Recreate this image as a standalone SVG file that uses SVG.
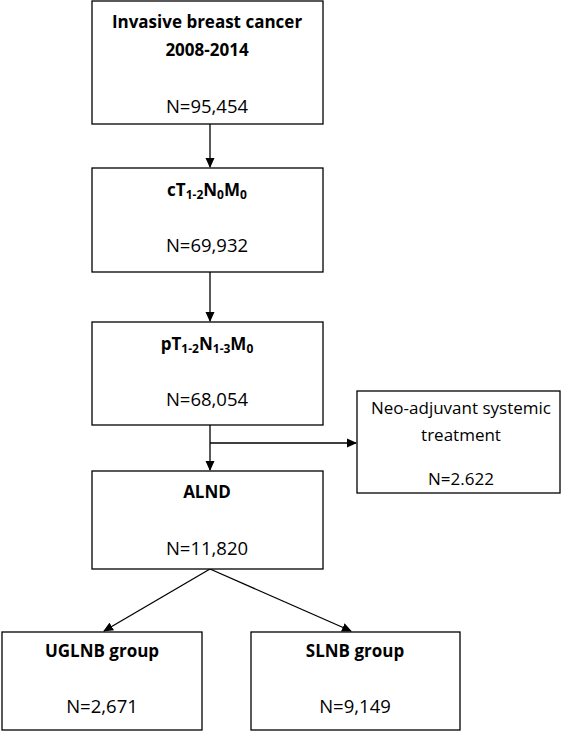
<svg xmlns="http://www.w3.org/2000/svg" width="567" height="731" viewBox="0 0 567 731">
<style>
.box{fill:#fff;stroke:#000;stroke-width:1.3}
.t{font-family:"Open Sans","Liberation Sans",sans-serif;font-size:17px;fill:#000;text-anchor:middle}
.n{font-size:18.5px}
.b{font-weight:bold}
.s{font-size:12px}
.con{stroke:#000;stroke-width:1.3;fill:none}
</style>
<defs>
<marker id="ah" markerWidth="10" markerHeight="10" refX="9" refY="5" orient="auto" markerUnits="userSpaceOnUse">
<path d="M0,0.5 L10,5 L0,9.5 Z" fill="#000"/>
</marker>
</defs>
<rect width="567" height="731" fill="#fff"/>
<g id="connectors">
<line class="con" x1="210" y1="124" x2="210" y2="167" marker-end="url(#ah)"/>
<line class="con" x1="210" y1="272" x2="210" y2="321" marker-end="url(#ah)"/>
<line class="con" x1="210" y1="425" x2="210" y2="470" marker-end="url(#ah)"/>
<line class="con" x1="210" y1="443" x2="356" y2="443" marker-end="url(#ah)"/>
<line class="con" x1="210" y1="569" x2="104" y2="631" marker-end="url(#ah)"/>
<line class="con" x1="210" y1="569" x2="351" y2="631" marker-end="url(#ah)"/>
</g>
<g id="n1">
<rect class="box" x="92" y="1" width="231" height="123"/>
<text class="t b" x="207" y="28">Invasive breast cancer</text>
<text class="t b" x="207" y="56">2008-2014</text>
<text class="t n" x="207" y="113">N=95,454</text>
</g>
<g id="n2">
<rect class="box" x="92" y="168" width="231" height="104"/>
<text class="t b" x="207" y="196">cT<tspan class="s" dy="3">1-2</tspan><tspan dy="-3">N</tspan><tspan class="s" dy="3">0</tspan><tspan dy="-3">M</tspan><tspan class="s" dy="3">0</tspan></text>
<text class="t n" x="207" y="252">N=69,932</text>
</g>
<g id="n3">
<rect class="box" x="92" y="322" width="231" height="103"/>
<text class="t b" x="207" y="350">pT<tspan class="s" dy="3">1-2</tspan><tspan dy="-3">N</tspan><tspan class="s" dy="3">1-3</tspan><tspan dy="-3">M</tspan><tspan class="s" dy="3">0</tspan></text>
<text class="t n" x="207" y="406">N=68,054</text>
</g>
<g id="n4">
<rect class="box" x="357" y="391" width="203" height="102"/>
<text class="t" x="461" y="414">Neo-adjuvant systemic</text>
<text class="t" x="461" y="441">treatment</text>
<text class="t" x="461" y="485">N=2.622</text>
</g>
<g id="n5">
<rect class="box" x="92" y="471" width="231" height="98"/>
<text class="t b" x="207" y="498">ALND</text>
<text class="t n" x="207" y="555">N=11,820</text>
</g>
<g id="n6">
<rect class="box" x="2" y="632" width="200" height="98"/>
<text class="t b" x="102" y="657">UGLNB group</text>
<text class="t n" x="102" y="713">N=2,671</text>
</g>
<g id="n7">
<rect class="box" x="251" y="632" width="209" height="98"/>
<text class="t b" x="355" y="657">SLNB group</text>
<text class="t n" x="355" y="713">N=9,149</text>
</g>
</svg>
